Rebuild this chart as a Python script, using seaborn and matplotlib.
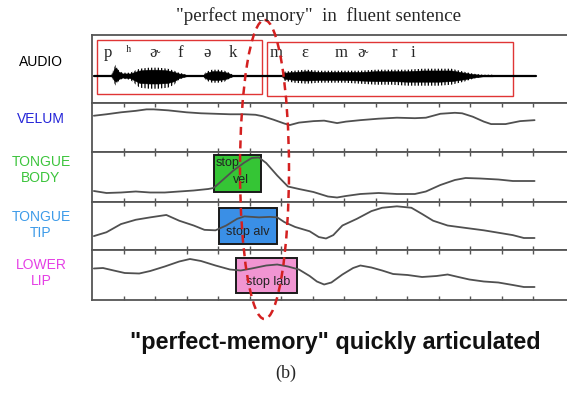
"""
Articulatory trajectories for "perfect memory", redrawn with seaborn.
"""

import matplotlib
matplotlib.use("Agg")
import matplotlib.pyplot as plt
import matplotlib.patches as mpatches
import numpy as np
import pandas as pd
import seaborn as sns

# time axis in tick units (ticks at 1..14)
ticks = list(range(1, 15))

# audio envelope (pixel-ish amplitude above / below the baseline)
audio_t = [0.60, 0.68, 0.75, 0.82, 0.95, 1.20, 1.35, 1.50, 1.80, 2.10, 2.40,
           2.60, 2.75, 2.90, 3.05, 3.50, 3.62, 3.80, 4.00, 4.20, 4.35, 4.50,
           6.00, 6.10, 6.40, 6.80, 7.20, 7.60, 8.00, 8.50, 9.00, 9.50, 10.00,
           10.50, 11.00, 11.40, 11.80, 12.10, 12.40, 12.70, 12.90]
audio_up = [0, 8, 11, 6, 3, 3, 5, 7, 8, 8, 7, 5, 3, 2, 0, 0, 4, 6, 6, 5, 3, 0,
            0, 4, 5, 6, 5, 5, 5, 5, 6, 6, 6, 7, 7, 7, 4, 2, 1, 1, 0]
audio_dn = [0, -7, -10, -6, -3, -4, -8, -12, -13, -13, -12, -9, -4, -2, 0, 0,
            -5, -7, -7, -6, -3, 0, 0, -5, -7, -8, -7, -7, -7, -8, -9, -9,
            -10, -10, -10, -9, -6, -3, -1, -1, 0]

phones = ["p", "ʰ", "ɚ", "f", "ə", "k", "m", "ɛ", "m", "ɚ", "r", "i"]
phone_t = [0.50, 1.16, 1.99, 2.78, 3.64, 4.47, 5.83, 6.75, 7.89, 8.59, 9.58, 10.18]

velum_t = [0.05, 0.45, 0.91, 1.38, 1.72, 1.95, 2.41, 2.99, 3.45, 3.91, 4.37,
           4.83, 5.18, 5.41, 5.75, 6.10, 6.27, 6.56, 7.02, 7.36, 7.77, 8.05,
           8.51, 9.09, 9.67, 10.24, 10.59, 11.05, 11.51, 11.74, 12.08, 12.43,
           12.66, 13.12, 13.58, 14.04]
velum = [0.74, 0.77, 0.81, 0.84, 0.87, 0.87, 0.85, 0.81, 0.79, 0.78, 0.77,
         0.77, 0.76, 0.73, 0.66, 0.58, 0.55, 0.60, 0.63, 0.64, 0.59, 0.62,
         0.65, 0.68, 0.70, 0.69, 0.70, 0.78, 0.80, 0.79, 0.72, 0.62,
         0.57, 0.57, 0.63, 0.65]

tbody_t = [0.05, 0.45, 0.91, 1.38, 1.84, 2.30, 2.76, 3.22, 3.68, 3.85, 4.14,
           4.48, 4.83, 5.06, 5.29, 5.52, 5.87, 6.21, 6.56, 7.02, 7.48, 7.77,
           8.05, 8.51, 9.09, 9.67, 10.24, 10.59, 11.05, 11.51, 11.85, 12.31,
           12.89, 13.35, 14.04]
tbody = [0.22, 0.18, 0.19, 0.21, 0.19, 0.19, 0.21, 0.23, 0.26, 0.28, 0.44,
         0.63, 0.79, 0.88, 0.89, 0.78, 0.53, 0.31, 0.26, 0.20, 0.11, 0.09,
         0.12, 0.16, 0.18, 0.16, 0.16, 0.21, 0.34, 0.44, 0.48, 0.47,
         0.45, 0.42, 0.42]

ttip_t = [0.05, 0.45, 0.91, 1.38, 1.84, 2.35, 2.76, 3.22, 3.56, 3.91, 4.25,
          4.60, 4.83, 5.29, 5.64, 5.87, 6.10, 6.44, 6.90, 7.19, 7.42, 7.65,
          7.94, 8.40, 8.86, 9.20, 9.67, 10.13, 10.47, 10.82, 11.28, 11.85,
          12.43, 12.89, 13.35, 13.70, 14.04]
ttip = [0.29, 0.37, 0.54, 0.63, 0.68, 0.73, 0.61, 0.51, 0.42, 0.41, 0.51,
        0.65, 0.70, 0.68, 0.69, 0.68, 0.58, 0.48, 0.39, 0.27, 0.24, 0.31,
        0.51, 0.65, 0.81, 0.88, 0.91, 0.88, 0.75, 0.61, 0.51, 0.46,
        0.41, 0.36, 0.31, 0.25, 0.25]

lip_t = [0.05, 0.34, 0.68, 1.03, 1.49, 1.84, 2.30, 2.76, 3.10, 3.45, 3.91,
         4.37, 4.71, 5.06, 5.52, 5.87, 6.21, 6.56, 6.90, 7.13, 7.36, 7.59,
         7.94, 8.28, 8.51, 8.86, 9.20, 9.55, 10.01, 10.47, 10.93, 11.28,
         11.62, 11.97, 12.43, 12.89, 13.35, 13.70, 14.04]
lip = [0.63, 0.64, 0.59, 0.54, 0.53, 0.58, 0.67, 0.77, 0.82, 0.78, 0.69,
       0.61, 0.59, 0.63, 0.69, 0.71, 0.67, 0.61, 0.48, 0.37, 0.31, 0.35,
       0.51, 0.64, 0.69, 0.65, 0.59, 0.52, 0.50, 0.46, 0.48, 0.51,
       0.46, 0.41, 0.37, 0.35, 0.30, 0.26, 0.26]

# gesture boxes: (start, end, bottom, top, colour)
gestures = {
    "tbody": (3.86, 5.36, 0.20, 0.94, "#35c535"),
    "ttip": (4.02, 5.86, 0.125, 0.875, "#3a8fe6"),
    "lip": (4.56, 6.50, 0.14, 0.84, "#f195d2"),
}

W, H = 567, 393
sns.set_style("white")
plt.rcParams["hatch.linewidth"] = 0.9
fig = plt.figure(figsize=(W / 100, H / 100), dpi=100)

frame = "#555555"
x0_px, unit = 92.3, 31.5
x_max = (600 - x0_px) / unit


def panel(top, bottom):
    ax = fig.add_axes([x0_px / W, 1 - bottom / H, (600 - x0_px) / W,
                       (bottom - top) / H])
    ax.set_xlim(0, x_max)
    ax.set_yticks([])
    for s in ax.spines.values():
        s.set_color(frame)
        s.set_linewidth(1.3)
        s.set_visible(True)
    return ax


# audio panel
ax_a = panel(35, 103)
ax_a.set_ylim(-27.3, 40.7)
ax_a.set_xticks([])
ax_a.plot([0.05, 14.1], [0, 0], color="black", lw=1.6)
# striated envelope + dense core
ax_a.fill_between(audio_t, audio_dn, audio_up, facecolor="none",
                  edgecolor="black", hatch="|||||", lw=0)
ax_a.fill_between(audio_t, 0.6 * np.array(audio_dn), 0.75 * np.array(audio_up),
                  color="black", lw=0.4)
ax_a.add_patch(mpatches.Rectangle((0.15, -18.3), 5.24, 54.0, fill=False,
                                  ec="#e03535", lw=1.0))
ax_a.add_patch(mpatches.Rectangle((5.55, -20.5), 7.81, 54.0, fill=False,
                                  ec="#e03535", lw=1.0))
for ph, t in zip(phones, phone_t):
    ax_a.text(t, 22.5, ph, ha="center", va="center", fontsize=12,
              family=["Liberation Serif", "DejaVu Serif"])

rows = [
    (103, 152, velum_t, velum, None),
    (152, 202, tbody_t, tbody, "tbody"),
    (202, 250, ttip_t, ttip, "ttip"),
    (250, 300, lip_t, lip, "lip"),
]
axes = {}
for top, bottom, t, v, key in rows:
    ax = panel(top, bottom)
    ax.set_ylim(0, 1)
    ax.set_xticks(ticks)
    ax.tick_params(axis="x", direction="in", top=True, bottom=True,
                   length=3, width=1, color=frame, labelbottom=False)
    if key:
        x1, x2, y1, y2, c = gestures[key]
        ax.add_patch(mpatches.Rectangle((x1, y1), x2 - x1, y2 - y1,
                                        fc=c, ec="#1a1a1a", lw=1.4, zorder=2))
    df = pd.DataFrame({"t": t, "v": v})
    sns.lineplot(data=df, x="t", y="v", ax=ax, color="#505050", lw=1.3,
                 zorder=3)
    ax.set_xlabel("")
    ax.set_ylabel("")
    axes[key] = ax

box_txt = dict(fontsize=9, color="#222222", family="Liberation Sans",
               ha="center", va="center", zorder=4)
axes["tbody"].text(4.31, 0.78, "stop", **box_txt)
axes["tbody"].text(4.72, 0.44, "vel", **box_txt)
axes["ttip"].text(4.94, 0.375, "stop alv", **box_txt)
axes["lip"].text(5.58, 0.36, "stop lab", **box_txt)

# overlay in pixel coordinates for texts and the dashed ellipse
ov = fig.add_axes([0, 0, 1, 1])
ov.set_xlim(0, W)
ov.set_ylim(H, 0)
ov.axis("off")
ov.patch.set_alpha(0)

ov.text(319, 16, "\"perfect memory\"  in  fluent sentence", ha="center",
        va="center", fontsize=13.7, family="Liberation Serif")
ov.add_patch(mpatches.Ellipse((264.5, 169.5), 49, 299, fill=False,
                              ec="#d42020", lw=1.8, ls=(0, (3.2, 2.2))))

labels = [
    ("AUDIO", 62, "black"),
    ("VELUM", 119, "#2424d8"),
    ("TONGUE\nBODY", 170, "#3cc43c"),
    ("TONGUE\nTIP", 225, "#3d9be9"),
    ("LOWER\nLIP", 273, "#e540e5"),
]
for txt, y, c in labels:
    ov.text(41, y, txt, ha="center", va="center", fontsize=10, color=c,
            family="Liberation Sans", linespacing=1.1)

ov.text(335, 342, "\"perfect-memory\" quickly articulated", ha="center",
        va="center", fontsize=16.8, fontweight="bold", color="#111111",
        family="Liberation Sans")
ov.text(286, 373, "(b)", ha="center", va="center", fontsize=13,
        family="Liberation Serif")

fig.savefig("out.png", dpi=100)
